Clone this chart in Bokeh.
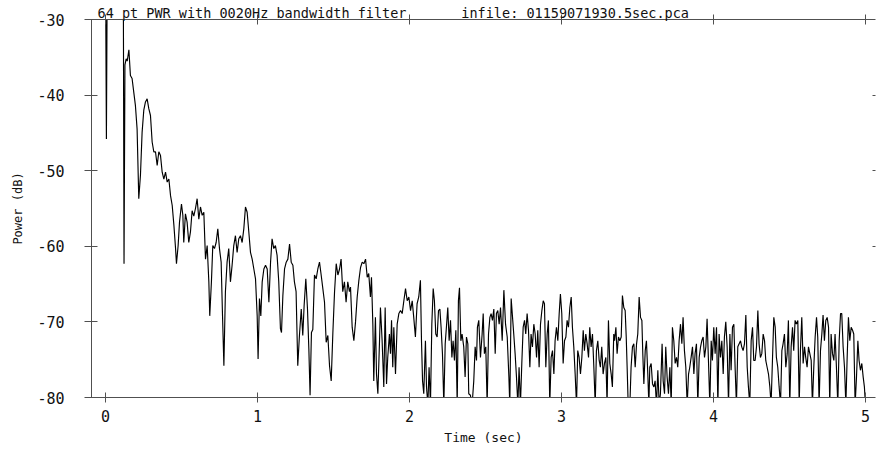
from bokeh.plotting import figure
from bokeh.models import Range1d, FixedTicker, LinearAxis, CustomLabelingPolicy
from bokeh.embed import file_html
from bokeh.resources import INLINE

# ---- data: power (dB) vs time (sec) ----
onset_t = [0.000, 0.006, 0.012, 0.060, 0.117, 0.122, 0.128, 0.136, 0.143, 0.154, 0.164, 0.175, 0.186, 0.197,
           0.208, 0.219, 0.230, 0.241, 0.252, 0.263, 0.274, 0.285, 0.296, 0.307, 0.318, 0.329, 0.340, 0.351,
           0.362, 0.373, 0.384, 0.395, 0.406, 0.417, 0.428, 0.439, 0.450, 0.461, 0.467, 0.478, 0.487, 0.500,
           0.509, 0.515, 0.526, 0.537, 0.548, 0.559, 0.570, 0.581, 0.592, 0.603, 0.614, 0.625, 0.636, 0.647,
           0.658, 0.669, 0.680, 0.686, 0.697, 0.706, 0.717, 0.728, 0.739, 0.750, 0.761, 0.770, 0.779, 0.789,
           0.800, 0.811, 0.822, 0.833, 0.844, 0.855, 0.866, 0.877, 0.888, 0.899, 0.910, 0.921, 0.932, 0.943,
           0.954, 0.965, 0.976, 0.987, 0.998, 1.004, 1.013, 1.022, 1.031, 1.042, 1.053, 1.064, 1.075, 1.086,
           1.096, 1.107, 1.118, 1.129, 1.140, 1.151, 1.158, 1.167, 1.178, 1.189, 1.200, 1.211, 1.222, 1.233,
           1.243, 1.254, 1.265, 1.276, 1.288, 1.298, 1.307, 1.318, 1.329, 1.338, 1.346, 1.355, 1.364, 1.375,
           1.386, 1.397, 1.408, 1.419, 1.430, 1.441, 1.452, 1.463, 1.474, 1.485, 1.496, 1.507, 1.518, 1.529,
           1.540, 1.550, 1.561, 1.572, 1.583, 1.594, 1.605]
onset_p = [-22.0, -45.8, -22.0, -24.0, -22.0, -62.3, -36.0, -35.2, -35.5, -34.0, -37.4, -37.8, -39.6, -41.4,
           -44.5, -53.7, -50.6, -44.9, -42.0, -40.9, -40.5, -41.8, -42.7, -46.2, -47.5, -47.5, -49.3, -47.5,
           -48.0, -50.2, -51.1, -50.2, -51.5, -51.1, -53.3, -54.6, -57.2, -60.3, -62.3, -59.9, -56.8, -54.4,
           -55.9, -59.5, -55.7, -56.8, -59.5, -58.1, -55.3, -56.0, -55.0, -53.7, -56.4, -54.8, -55.9, -55.5,
           -61.7, -59.9, -64.7, -69.2, -64.7, -59.9, -60.3, -59.5, -57.7, -60.3, -62.1, -69.2, -75.8, -66.0,
           -62.1, -60.3, -64.7, -62.5, -59.9, -58.6, -60.8, -59.0, -58.6, -59.5, -57.7, -54.8, -55.5, -58.1,
           -60.8, -61.7, -63.0, -64.3, -69.2, -74.9, -66.9, -69.2, -64.7, -63.0, -62.5, -63.0, -67.4, -62.1,
           -59.0, -60.3, -59.9, -61.2, -64.7, -70.9, -71.4, -66.5, -63.0, -62.1, -61.7, -59.7, -62.1, -62.5,
           -64.7, -66.0, -75.8, -71.8, -68.3, -71.8, -67.8, -64.3, -68.3, -73.6, -79.7, -71.4, -71.0, -63.8,
           -64.3, -63.0, -62.1, -63.8, -65.6, -67.4, -72.7, -71.8, -75.8, -77.8, -71.4, -66.0, -62.3, -63.8,
           -63.0, -61.7, -66.0, -64.7, -67.4, -64.7, -66.0]

middle_t = [1.612, 1.623, 1.634, 1.645, 1.656, 1.667, 1.678, 1.689, 1.700, 1.711, 1.722, 1.732, 1.743, 1.750,
            1.759, 1.765, 1.776, 1.783, 1.792, 1.803, 1.809, 1.820, 1.831, 1.840, 1.849, 1.857, 1.868, 1.875,
            1.882, 1.890, 1.897, 1.908, 1.919, 1.930, 1.941, 1.952, 1.963, 1.974, 1.985, 1.996, 2.007, 2.018,
            2.028, 2.039, 2.050, 2.061, 2.072, 2.079, 2.086, 2.094, 2.105, 2.112, 2.121, 2.129, 2.138, 2.147,
            2.156, 2.164, 2.173, 2.182, 2.191, 2.200, 2.208, 2.217, 2.226, 2.235, 2.243, 2.252, 2.261, 2.270,
            2.279, 2.287, 2.296, 2.305, 2.314, 2.322, 2.329, 2.338, 2.346, 2.357, 2.366, 2.375, 2.384, 2.390,
            2.401, 2.412, 2.423, 2.432, 2.441, 2.447, 2.456, 2.467, 2.478, 2.485, 2.493, 2.502, 2.511, 2.520,
            2.529, 2.537, 2.546, 2.555, 2.564, 2.572, 2.581, 2.590, 2.599, 2.610, 2.621, 2.632, 2.643, 2.654,
            2.660, 2.669, 2.678, 2.686, 2.695, 2.704, 2.713, 2.721, 2.730, 2.739, 2.748, 2.757, 2.765, 2.774,
            2.783, 2.792, 2.800, 2.809, 2.818, 2.827, 2.836, 2.844, 2.853, 2.862, 2.871, 2.880, 2.888, 2.897,
            2.906, 2.914, 2.923, 2.932, 2.941, 2.950, 2.958, 2.967, 2.976, 2.985, 2.993, 3.002, 3.011, 3.020,
            3.029, 3.037, 3.046, 3.055, 3.064, 3.072, 3.081, 3.090, 3.099, 3.107, 3.116, 3.125, 3.134, 3.143,
            3.151, 3.160, 3.169, 3.178, 3.186, 3.195, 3.204, 3.213, 3.222, 3.230, 3.239, 3.248, 3.256, 3.265,
            3.274, 3.283, 3.292, 3.300, 3.309, 3.318, 3.327, 3.335, 3.344]
middle_p = [-65.4, -70.7, -72.5, -70.0, -66.7, -64.5, -62.8, -62.1, -62.3, -61.7, -64.1, -63.6, -66.7, -64.1,
            -70.3, -77.8, -69.4, -76.9, -79.5, -72.5, -68.1, -72.5, -78.6, -68.1, -78.2, -74.7, -71.6, -74.2,
            -69.8, -76.0, -70.7, -76.9, -70.3, -68.9, -68.5, -68.9, -67.2, -65.6, -67.2, -66.7, -68.5, -67.2,
            -69.4, -72.0, -67.6, -66.7, -64.5, -72.5, -77.8, -79.5, -72.5, -78.6, -81.0, -76.0, -81.0, -70.3,
            -65.6, -67.2, -71.6, -72.0, -68.5, -68.3, -70.7, -74.2, -81.0, -72.9, -70.7, -68.1, -72.5, -69.8,
            -74.7, -72.5, -75.1, -71.1, -81.0, -67.2, -65.5, -72.5, -71.6, -73.3, -77.3, -72.0, -72.9, -79.5,
            -79.7, -81.0, -77.8, -73.3, -75.1, -70.7, -69.8, -74.7, -71.6, -68.9, -74.2, -73.3, -81.0, -71.6,
            -69.4, -68.9, -69.8, -68.3, -74.2, -68.9, -68.5, -70.3, -68.1, -72.5, -65.8, -70.3, -72.0, -77.3,
            -81.0, -66.9, -69.4, -71.6, -74.2, -77.3, -81.0, -76.0, -81.0, -75.5, -70.7, -69.8, -71.6, -68.9,
            -71.1, -76.0, -71.6, -73.3, -70.3, -71.6, -74.7, -71.1, -76.0, -70.3, -68.5, -67.2, -67.6, -76.0,
            -71.6, -69.8, -81.0, -74.7, -73.8, -76.9, -72.5, -70.7, -72.5, -68.9, -66.3, -68.9, -75.5, -72.5,
            -72.0, -69.8, -70.7, -68.1, -66.7, -70.7, -73.3, -76.9, -81.0, -73.8, -74.7, -76.9, -74.7, -71.1,
            -73.8, -71.6, -72.9, -74.7, -70.7, -73.3, -71.6, -76.0, -81.0, -73.8, -72.5, -75.1, -76.0, -73.3,
            -76.9, -75.5, -74.7, -81.0, -69.8, -75.5, -76.9, -78.6, -71.6]

late_t = [3.349, 3.358, 3.366, 3.375, 3.384, 3.393, 3.401, 3.410, 3.419, 3.426, 3.432, 3.439, 3.450, 3.458,
          3.467, 3.476, 3.485, 3.494, 3.502, 3.511, 3.520, 3.529, 3.535, 3.542, 3.551, 3.559, 3.568, 3.575,
          3.581, 3.590, 3.599, 3.608, 3.616, 3.625, 3.634, 3.643, 3.651, 3.662, 3.669, 3.678, 3.686, 3.695,
          3.704, 3.713, 3.722, 3.730, 3.739, 3.748, 3.757, 3.765, 3.774, 3.783, 3.792, 3.800, 3.809, 3.818,
          3.827, 3.836, 3.844, 3.853, 3.862, 3.871, 3.879, 3.888, 3.897, 3.906, 3.915, 3.923, 3.932, 3.941,
          3.950, 3.958, 3.967, 3.976, 3.985, 3.993, 4.002, 4.011, 4.020, 4.029, 4.037, 4.046, 4.055, 4.064,
          4.072, 4.081, 4.090, 4.099, 4.108, 4.116, 4.125, 4.134, 4.143, 4.151, 4.160, 4.169, 4.178, 4.186,
          4.195, 4.204, 4.213, 4.222, 4.230, 4.239, 4.248, 4.257, 4.265, 4.274, 4.283, 4.292, 4.300, 4.309,
          4.318, 4.327, 4.336, 4.344, 4.353, 4.362, 4.371, 4.379, 4.388, 4.397, 4.406, 4.414, 4.423, 4.432,
          4.441, 4.450, 4.458, 4.467, 4.476, 4.485, 4.493, 4.502, 4.511, 4.520, 4.528, 4.537, 4.546, 4.555,
          4.564, 4.572, 4.581, 4.590, 4.599, 4.607, 4.616, 4.625, 4.634, 4.643, 4.651, 4.660, 4.669, 4.678,
          4.686, 4.695, 4.704, 4.713, 4.721, 4.730, 4.739, 4.748, 4.757, 4.765, 4.774, 4.783, 4.792, 4.800,
          4.809, 4.818, 4.827, 4.836, 4.844, 4.853, 4.862, 4.871, 4.879, 4.888, 4.897, 4.906, 4.915, 4.923,
          4.932, 4.941, 4.950, 4.958, 4.967, 4.976, 4.985, 4.993, 5.000]
late_p = [-72.5, -70.7, -74.2, -72.0, -72.5, -72.0, -66.5, -68.1, -68.5, -72.0, -76.0, -81.0, -81.0, -76.0,
          -73.3, -72.9, -76.0, -72.9, -71.6, -66.7, -69.4, -69.8, -74.2, -78.2, -73.8, -72.5, -76.9, -81.0,
          -76.0, -75.5, -78.2, -78.6, -77.8, -81.0, -76.4, -81.0, -79.5, -72.9, -77.8, -79.5, -73.3, -77.3,
          -79.5, -76.0, -81.0, -70.7, -72.5, -75.5, -74.7, -76.0, -72.5, -70.3, -72.9, -69.4, -73.8, -76.0,
          -81.0, -76.9, -76.0, -74.7, -73.3, -76.9, -74.2, -72.9, -81.0, -74.7, -73.3, -72.5, -72.0, -74.7,
          -73.3, -69.6, -75.1, -81.0, -72.5, -75.1, -70.7, -74.2, -70.7, -81.0, -71.6, -74.7, -72.5, -76.9,
          -72.0, -70.0, -73.3, -81.0, -71.6, -76.4, -70.7, -70.3, -76.4, -81.0, -73.3, -72.9, -72.5, -73.3,
          -73.8, -72.9, -69.1, -76.0, -78.6, -81.0, -72.5, -70.7, -75.1, -75.1, -73.3, -68.5, -72.9, -74.7,
          -74.2, -71.6, -72.5, -75.1, -76.0, -76.9, -78.6, -81.0, -75.1, -69.4, -70.7, -74.7, -76.0, -78.6,
          -81.0, -73.8, -72.9, -71.6, -76.0, -74.2, -69.8, -81.0, -73.3, -70.7, -73.8, -69.8, -70.3, -69.8,
          -81.0, -73.8, -69.4, -75.5, -73.3, -74.7, -76.0, -73.3, -74.2, -75.1, -81.0, -76.0, -72.0, -69.4,
          -72.0, -81.0, -73.8, -71.6, -69.1, -72.5, -69.8, -69.4, -70.7, -81.0, -71.6, -74.2, -75.1, -71.6,
          -76.0, -81.0, -72.5, -68.9, -68.9, -73.3, -76.0, -81.0, -75.1, -69.4, -72.5, -70.7, -71.1, -71.6,
          -81.0, -77.3, -72.5, -75.1, -76.4, -75.5, -77.3, -78.6, -81.0]

x_ticks = [0, 1, 2, 3, 4, 5]
x_tick_labels = ["0", "1", "2", "3", "4", "5"]
y_ticks = [-80, -70, -60, -50, -40, -30]
y_tick_labels = ["-80", "-70", "-60", "-50", "-40", "-30"]
title_left = "64 pt PWR with 0020Hz bandwidth filter"
title_right = "infile: 01159071930.5sec.pca"

t = onset_t + middle_t + late_t
power = onset_p + middle_p + late_p

FONT = "DejaVu Sans Mono"
AX = "#505050"
TXT = "#111111"

p = figure(width=876, height=450, output_backend="svg", toolbar_location=None,
           x_range=Range1d(-0.092, 5.066), y_range=Range1d(-80, -30),
           min_border_left=91, min_border_right=1, min_border_top=19, min_border_bottom=53,
           x_axis_label="Time (sec)", y_axis_label="Power (dB)")
p.title.visible = False
p.outline_line_color = None
p.xgrid.visible = False
p.ygrid.visible = False
p.background_fill_color = "white"
p.border_fill_color = "white"

p.line(t, power, line_color="black", line_width=1.15)

xa = p.xaxis[0]
xa.ticker = FixedTicker(ticks=x_ticks)
xa.major_label_overrides = {v: s for v, s in zip(x_ticks, x_tick_labels)}
xa.major_tick_in = 5
xa.major_tick_out = 5
xa.minor_tick_line_color = None
xa.major_label_standoff = 7
ya = p.yaxis[0]
ya.ticker = FixedTicker(ticks=y_ticks)
ya.major_label_overrides = {v: s for v, s in zip(y_ticks, y_tick_labels)}
ya.major_tick_in = 6
ya.major_tick_out = 7
ya.minor_tick_line_color = None
ya.major_label_standoff = 20

for ax in (xa, ya):
    ax.axis_line_color = AX
    ax.major_tick_line_color = AX
    ax.major_label_text_font = FONT
    ax.major_label_text_font_size = "15px"
    ax.major_label_text_color = TXT
    ax.axis_label_text_font = FONT
    ax.axis_label_text_font_style = "normal"
    ax.axis_label_text_color = TXT
xa.axis_label_text_font_size = "13px"
ya.axis_label_text_font_size = "12px"
xa.axis_label_standoff = 5
ya.axis_label_standoff = 9

# top frame line with crossing ticks (labels suppressed)
top = LinearAxis(ticker=FixedTicker(ticks=x_ticks), major_label_text_font_size="0px",
                 major_label_policy=CustomLabelingPolicy(code="return [];"),
                 major_label_standoff=-5, major_tick_in=5, major_tick_out=5,
                 minor_tick_line_color=None, axis_line_color=AX, major_tick_line_color=AX)
p.add_layout(top, "above")

# short inward ticks along the right edge (labels suppressed)
right = LinearAxis(ticker=FixedTicker(ticks=y_ticks[1:5]), major_label_text_font_size="0px",
                   major_label_policy=CustomLabelingPolicy(code="return [];"),
                   major_label_standoff=0, major_tick_in=3, major_tick_out=0,
                   minor_tick_line_color=None, axis_line_color=None, major_tick_line_color=AX)
p.add_layout(right, "right")

# header texts placed along the top edge
header_pos = [0.964, 3.09]
header = LinearAxis(ticker=FixedTicker(ticks=header_pos),
                    major_label_overrides={header_pos[0]: title_left, header_pos[1]: title_right},
                    major_label_text_font=FONT, major_label_text_font_size="13.5px",
                    major_label_text_color=TXT, major_label_standoff=-6,
                    major_tick_in=0, major_tick_out=0, major_tick_line_color=None,
                    minor_tick_line_color=None, axis_line_color=None)
p.add_layout(header, "above")

open("out.html", "w").write(file_html(p, INLINE))
